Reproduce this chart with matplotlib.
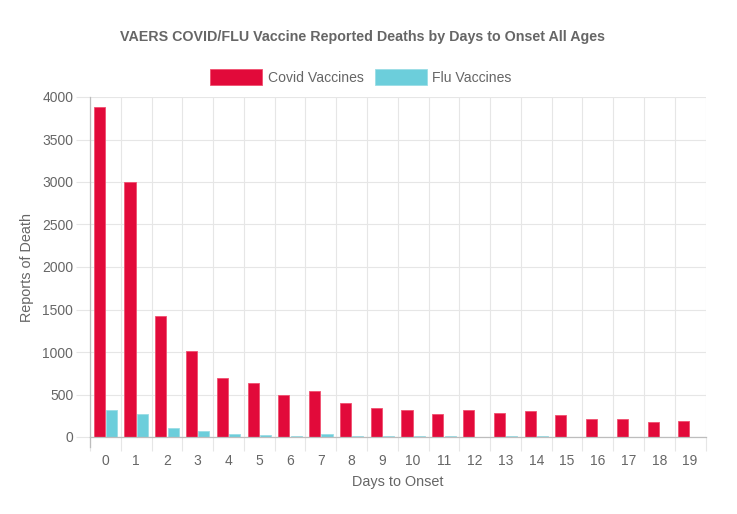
import matplotlib
matplotlib.use("Agg")
import matplotlib.pyplot as plt
from matplotlib.patches import Patch
import numpy as np

plt.rcParams['font.family'] = ['Liberation Sans', 'DejaVu Sans']

days = [str(i) for i in range(20)]
covid = [3880, 2995, 1425, 1015, 698, 638, 494, 541, 395, 341,
         313, 274, 313, 286, 301, 254, 212, 208, 172, 188]
flu = [313, 274, 106, 74, 39, 27, 15, 35, 15, 15,
       10, 8, 5, 10, 12, 3, 5, 3, 2, 2]

title = "VAERS COVID/FLU Vaccine Reported Deaths by Days to Onset All Ages"
series_names = ["Covid Vaccines", "Flu Vaccines"]
xlabel = "Days to Onset"
ylabel = "Reports of Death"

red = "#E20A3A"
red_edge = "#F0506F"
cyan = "#6CCEDB"
cyan_edge = "#9ADDE6"
txt = "#666666"
grid_c = "#E6E6E6"
axis_c = "#BDBDBD"

W, H = 737, 514
fig = plt.figure(figsize=(W / 100, H / 100), dpi=100)
ax = fig.add_axes([90 / W, 1 - 437 / H, (705.5 - 90) / W, (437 - 97) / H])

x = np.arange(len(days))
bw = 0.36
ax.bar(x - 0.2, covid, width=bw, color=red, edgecolor=red_edge, linewidth=0.6, zorder=3)
ax.bar(x + 0.2, flu, width=bw, color=cyan, edgecolor=cyan_edge, linewidth=0.6, zorder=3)

ax.set_xlim(-0.5, len(days) - 0.5)
ax.set_ylim(0, 4000)

ax.set_xticks(x)
ax.set_xticklabels(days)
ax.set_xticks(np.arange(-0.5, len(days)), minor=True)
ax.tick_params(axis='x', which='major', length=0, pad=12, labelsize=10, labelcolor=txt)
ax.tick_params(axis='x', which='minor', length=10, width=0.8, color=grid_c, direction='out')

ax.set_yticks(np.arange(0, 4001, 500))
ax.tick_params(axis='y', which='major', length=10, width=0.8, color=grid_c, pad=2,
               labelsize=10, labelcolor=txt)

ax.grid(True, axis='y', which='major', color=grid_c, linewidth=0.8, zorder=0)
ax.grid(True, axis='x', which='minor', color=grid_c, linewidth=0.8, zorder=0)
ax.grid(False, axis='x', which='major')

for s in ['top', 'right']:
    ax.spines[s].set_visible(False)
ax.spines['left'].set_color(axis_c)
ax.spines['bottom'].set_color(axis_c)
ax.spines['left'].set_linewidth(0.9)
ax.spines['bottom'].set_linewidth(0.9)
ax.spines['left'].set_zorder(4)
ax.spines['bottom'].set_zorder(4)
ax.plot([-0.5, -0.5], [0, -10 * 4000 / 340], color=axis_c, lw=0.9, clip_on=False, zorder=4)

fig.text(398 / W, 1 - 482 / H, xlabel, ha='center', va='center', fontsize=10.4, color=txt)
fig.text(27 / W, 1 - 267 / H, ylabel, ha='center', va='center', fontsize=10.4, color=txt,
         rotation=90)

fig.text(362 / W, 1 - 37 / H, title, ha='center', va='center', fontsize=10.3,
         fontweight='bold', color=txt)

handles = [Patch(facecolor=red, edgecolor=red_edge, linewidth=0.6),
           Patch(facecolor=cyan, edgecolor=cyan_edge, linewidth=0.6)]
fig.legend(handles, series_names, loc='center', bbox_to_anchor=(361 / W, 1 - 77 / H),
           ncol=2, frameon=False, fontsize=10.1, labelcolor=txt,
           handlelength=3.7, handleheight=1.35, handletextpad=0.4, columnspacing=0.8)

fig.savefig("out.png", dpi=100, facecolor='white')
